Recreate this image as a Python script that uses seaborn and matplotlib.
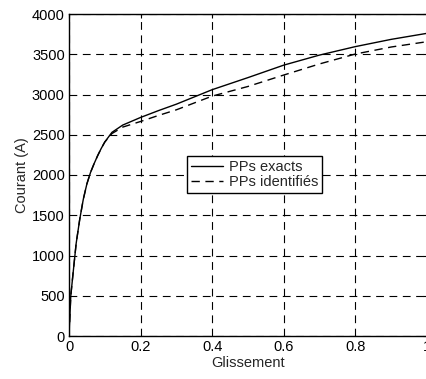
import matplotlib
matplotlib.use("Agg")
import matplotlib.pyplot as plt
import seaborn as sns
import pandas as pd

glissement = [0, 0.005, 0.01, 0.02, 0.03, 0.04, 0.05, 0.06, 0.07, 0.08, 0.09, 0.10,
              0.12, 0.15, 0.2, 0.25, 0.3, 0.4, 0.5, 0.6, 0.7, 0.8, 0.9, 1.0]
courant_exacts = [0, 500, 720, 1150, 1450, 1700, 1890, 2030, 2140, 2240, 2330, 2410,
                  2530, 2620, 2715, 2800, 2880, 3060, 3210, 3365, 3490, 3595, 3685, 3760]
courant_identifies = [0, 500, 720, 1150, 1450, 1700, 1890, 2030, 2140, 2240, 2330, 2410,
                      2515, 2595, 2665, 2740, 2810, 2980, 3100, 3242, 3380, 3503, 3590, 3656]
labels = ["PPs exacts", "PPs identifiés"]
xticks = [0, 0.2, 0.4, 0.6, 0.8, 1.0]
xticklabels = ["0", "0.2", "0.4", "0.6", "0.8", "1"]
yticks = [0, 500, 1000, 1500, 2000, 2500, 3000, 3500, 4000]

sns.set_style("white")
plt.rcParams['font.family'] = ['Liberation Sans', 'DejaVu Sans']

df = pd.DataFrame({
    "Glissement": glissement * 2,
    "Courant": courant_exacts + courant_identifies,
    "Série": [labels[0]] * len(glissement) + [labels[1]] * len(glissement),
})

fig = plt.figure(figsize=(4.26, 3.79), dpi=100)
ax = fig.add_axes([69 / 426, 43 / 379, 358 / 426, 322 / 379])

sns.lineplot(data=df[df["Série"] == labels[0]], x="Glissement", y="Courant",
             color="black", linewidth=1.0, ax=ax, label=labels[0])
sns.lineplot(data=df[df["Série"] == labels[1]], x="Glissement", y="Courant",
             color="black", linewidth=1.0, ax=ax, label=labels[1])
ax.lines[1].set_dashes([6, 4])

ax.set_xlim(0, 1)
ax.set_ylim(0, 4000)
ax.set_xticks(xticks)
ax.set_xticklabels(xticklabels)
ax.set_yticks(yticks)
ax.tick_params(direction="in", length=3, labelsize=10.5, colors="black", pad=3,
               top=True, right=True)
ax.grid(True, color="black", linestyle=(0, (7, 5)), linewidth=0.8)
for s in ax.spines.values():
    s.set_color("black")
    s.set_linewidth(1.0)
ax.set_xlabel("Glissement", fontsize=10.5, labelpad=1)
ax.set_ylabel("Courant (A)", fontsize=10.5, labelpad=2)

leg = ax.legend(loc="upper left", bbox_to_anchor=(0.33, 0.558), fontsize=10.5,
                frameon=True, fancybox=False, edgecolor="black", framealpha=1,
                handlelength=2.2, borderpad=0.25, labelspacing=0.1, handletextpad=0.4,
                borderaxespad=0)
leg.get_frame().set_linewidth(1.0)
leg.get_lines()[1].set_dashes([6, 4])

fig.savefig("out.png", dpi=100)
